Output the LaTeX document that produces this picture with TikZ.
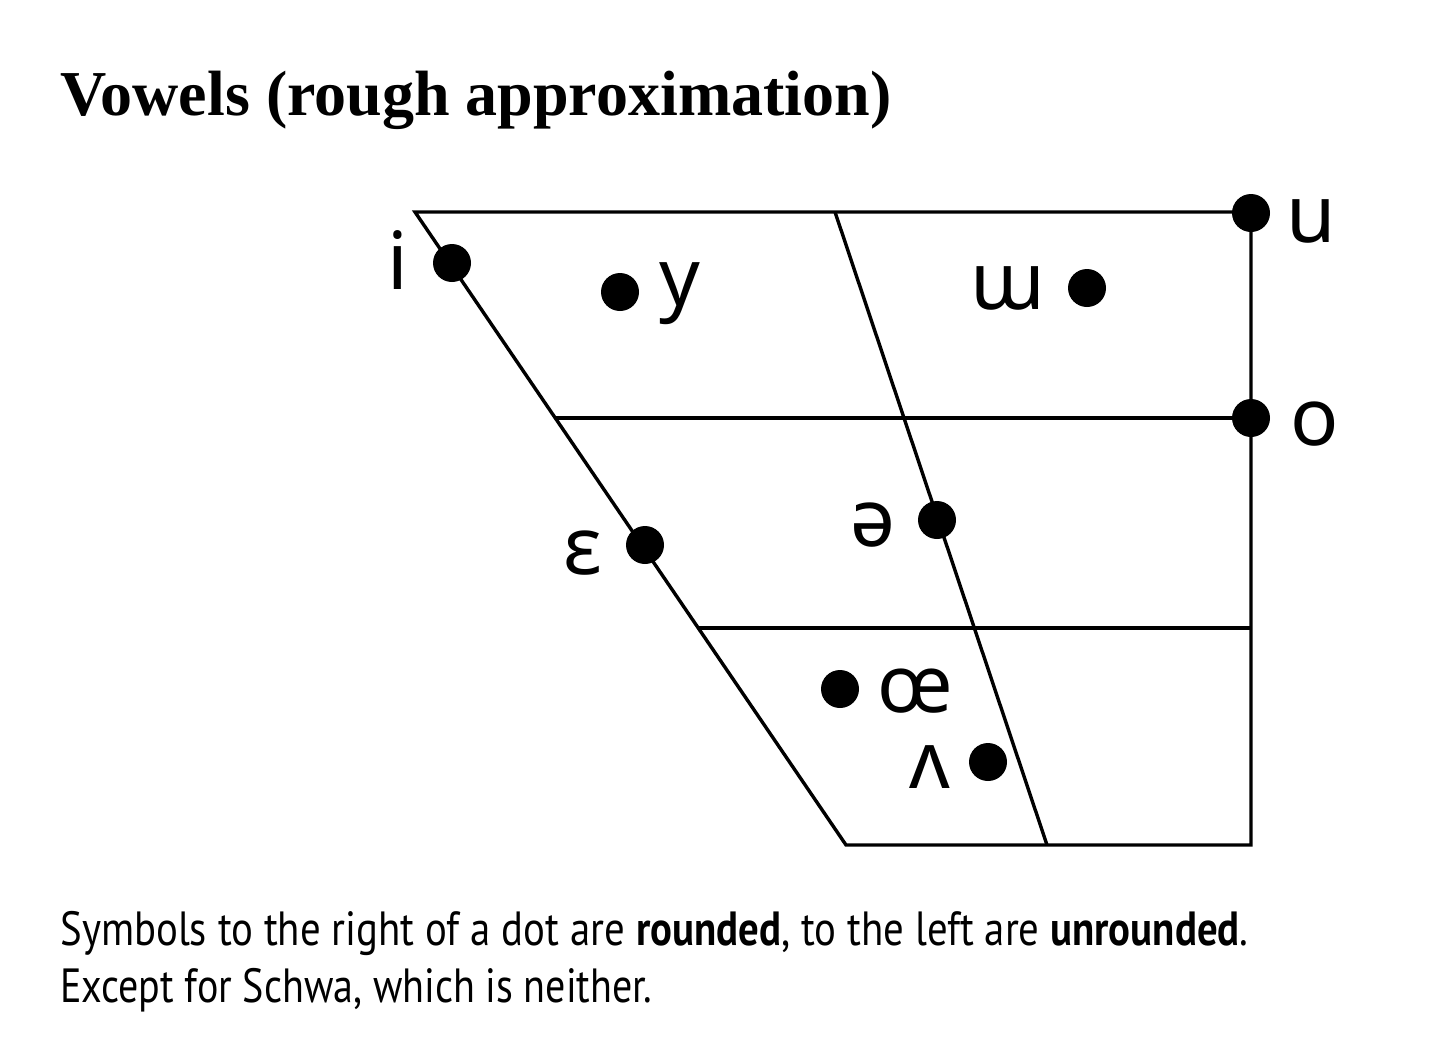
\documentclass[tikz,border=0pt]{standalone}
\usepackage{fontspec}
\setmainfont{PT Sans}
\newfontfamily\titlefont{Liberation Serif}
\newfontfamily\ipafont{Noto Sans}
\begin{document}
\begin{tikzpicture}[x=0.5pt,y=-0.5pt,
  chart/.style={line width=1.7pt, line join=miter},
  vdot/.style={circle, fill=black, inner sep=0pt, minimum size=19pt},
  ipa/.style={anchor=base, inner sep=0pt, font=\ipafont\fontsize{40}{40}\selectfont},
  caption/.style={anchor=base west, inner sep=0pt, font=\fontsize{24}{28}\selectfont}]
\useasboundingbox (0,0) rectangle (1449,1050);
% title
\node[anchor=base west, inner sep=0pt, font=\titlefont\bfseries\fontsize{32}{36}\selectfont] (title) at (60,115) {Vowels (rough approximation)};
% chart frame
\coordinate (tl) at (415,212);
\coordinate (tr) at (1251,212);
\coordinate (br) at (1251,845);
\coordinate (bl) at (846,845);
\coordinate (mt) at (835,212);
\coordinate (mb) at (1047,845);
\coordinate (h1l) at (555,418);
\coordinate (h1r) at (1251,418);
\coordinate (h2l) at (699,628);
\coordinate (h2r) at (1251,628);
\draw[chart] (tl) -- (tr) -- (br) -- (bl) -- cycle;
\draw[chart] (mt) -- (mb);
\draw[chart] (h1l) -- (h1r);
\draw[chart] (h2l) -- (h2r);
% dots
\node[vdot] (di) at (452,263) {};
\node[vdot] (dy) at (620,292) {};
\node[vdot] (dw) at (1087,288) {};
\node[vdot] (du) at (1251,213) {};
\node[vdot] (do) at (1251,418) {};
\node[vdot] (de) at (645,545) {};
\node[vdot] (dschwa) at (937,520) {};
\node[vdot] (doe) at (840,689) {};
\node[vdot] (dv) at (988,762) {};
% labels
\node[ipa] (li) at (398,289) {i};
\node[ipa] (ly) at (680,305) {y};
\node[ipa] (lw) at (1008,309) {ɯ};
\node[ipa] (lu) at (1311,242) {u};
\node[ipa] (lo) at (1315,445) {o};
\node[ipa] (le) at (583,574) {ɛ};
\node[ipa] (lschwa) at (873,546) {ə};
\node[ipa] (loe) at (915,712) {œ};
\node[ipa] (lv) at (930,788) {ʌ};
% caption
\node[caption] (cap1) at (60,945) {\resizebox{594pt}{\height}{Symbols to the right of a dot are \textbf{rounded}, to the left are \textbf{unrounded}.}};
\node[caption] (cap2) at (60,1002) {\resizebox{296pt}{\height}{Except for Schwa, which is neither.}};
\end{tikzpicture}
\end{document}
